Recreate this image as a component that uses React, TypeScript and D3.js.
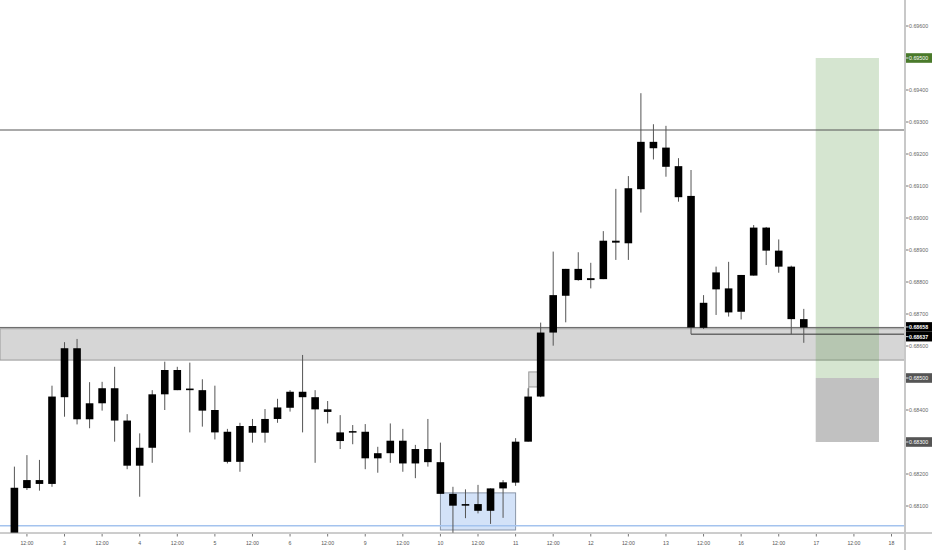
import * as d3 from "d3";

// 4h candles, prices x 1e5
const opens = [67978, 68156, 68181, 68169, 68440, 68593, 68371, 68421, 68468, 68367, 68226, 68282, 68449, 68525, 68467, 68462, 68400, 68332, 68238, 68350, 68329, 68372, 68407, 68457, 68440, 68402, 68330, 68334, 68332, 68249, 68265, 68304, 68233, 68278, 68237, 68138, 68101, 68106, 68085, 68155, 68173, 68301, 68442, 68642, 68757, 68841, 68806, 68809, 68929, 68921, 69090, 69238, 69220, 69162, 69069, 68657, 68777, 68780, 68707, 68820, 68970, 68898, 68848, 68684];
const highs = [68223, 68259, 68244, 68476, 68612, 68622, 68487, 68488, 68535, 68387, 68327, 68462, 68551, 68535, 68548, 68496, 68476, 68341, 68360, 68372, 68403, 68435, 68462, 68572, 68462, 68428, 68384, 68353, 68356, 68285, 68358, 68341, 68291, 68372, 68298, 68160, 68152, 68166, 68155, 68181, 68312, 68468, 68673, 68895, 68841, 68893, 68860, 68959, 69091, 69131, 69390, 69293, 69288, 69187, 69150, 68759, 68848, 68863, 68822, 68978, 68972, 68933, 68851, 68716];
const lows = [67963, 68150, 68148, 68160, 68379, 68355, 68343, 68398, 68301, 68215, 68129, 68235, 68400, 68462, 68330, 68348, 68308, 68233, 68207, 68298, 68298, 68360, 68395, 68330, 68235, 68358, 68278, 68293, 68215, 68204, 68235, 68207, 68187, 68223, 68138, 68006, 68062, 68077, 68044, 68063, 68163, 68301, 68440, 68601, 68674, 68804, 68780, 68809, 68869, 68869, 69017, 69183, 69129, 69051, 68637, 68653, 68697, 68692, 68683, 68820, 68853, 68829, 68637, 68610];
const closes = [68157, 68181, 68169, 68442, 68593, 68371, 68421, 68468, 68367, 68226, 68282, 68449, 68525, 68462, 68462, 68398, 68330, 68238, 68350, 68329, 68372, 68408, 68457, 68440, 68402, 68394, 68303, 68330, 68249, 68265, 68304, 68233, 68278, 68237, 68138, 68101, 68106, 68085, 68155, 68174, 68301, 68442, 68642, 68759, 68841, 68806, 68812, 68929, 68923, 69093, 69238, 69218, 69160, 69065, 68658, 68735, 68830, 68705, 68822, 68970, 68898, 68848, 68684, 68658];

const timeTickIdx = [1, 4, 7, 10, 13, 16, 19, 22, 25, 28, 31, 34, 37, 40, 43, 46, 49, 52, 55, 58, 61, 64, 67, 70];
const timeTickLabels = ["12:00", "3", "12:00", "4", "12:00", "5", "12:00", "6", "12:00", "9", "12:00", "10", "12:00", "11", "12:00", "12", "12:00", "13", "12:00", "16", "12:00", "17", "12:00", "18"];

const priceTicks = d3.range(68100, 69601, 100).map((v) => v / 1e5);

// drawings
const resistanceLevel = 0.69275;
const lastPrice = 0.68658;
const rayLevel = 0.68637;
const rayStartIdx = 54;
const zoneTop = 0.68654;
const zoneBottom = 0.68556;
const blueLevel = 0.68038;
const boxIdx = [34, 40];
const boxPrices = [0.68141, 0.68025];
const ghostIdx = [41.05, 41.8];
const ghostPrices = [0.68519, 0.68472, 0.68442];
const positionIdx = [63.95, 69];
const targetPrice = 0.695;
const entryPrice = 0.685;
const stopPrice = 0.683;

const axisBadges = [
  { v: 0.695, bg: "#4a7a2b", dy: 0 },
  { v: 0.68658, bg: "#000000", dy: -0.5 },
  { v: 0.68637, bg: "#000000", dy: 2.5 },
  { v: 0.685, bg: "#555555", dy: 0 },
  { v: 0.683, bg: "#555555", dy: 0 },
];

const W = 932;
const H = 550;
const plotRight = 905;
const plotBottom = 533;

export default function App() {
  const x = d3.scaleLinear().domain([0, 70]).range([14.4, 891.5]);
  const y = d3.scaleLinear().domain([0.681, 0.696]).range([506, 26]);
  const fmt = d3.format(".5f");
  const bw = 7.6;
  const font = "'Liberation Sans', Arial, sans-serif";
  const badgeVals = axisBadges.map((b) => fmt(b.v));

  return (
    <svg
      width={W}
      height={H}
      style={{ position: "absolute", left: 0, top: 0, background: "#fff" }}
    >
      <defs>
        <clipPath id="plot">
          <rect x={0} y={0} width={plotRight} height={plotBottom} />
        </clipPath>
      </defs>
      <g clipPath="url(#plot)">
        {/* support zone */}
        <rect
          x={0}
          y={y(zoneTop)}
          width={plotRight}
          height={y(zoneBottom) - y(zoneTop)}
          fill="#d6d6d6"
          stroke="#9a9a9a"
          strokeWidth={1}
        />
        {/* long position */}
        <rect
          x={x(positionIdx[0])}
          y={y(targetPrice)}
          width={x(positionIdx[1]) - x(positionIdx[0])}
          height={y(entryPrice) - y(targetPrice)}
          fill="rgb(80,148,58)"
          fillOpacity={0.24}
        />
        <rect
          x={x(positionIdx[0])}
          y={y(entryPrice)}
          width={x(positionIdx[1]) - x(positionIdx[0])}
          height={y(stopPrice) - y(entryPrice)}
          fill="#c1c1c1"
        />
        {/* blue box */}
        <rect
          x={x(boxIdx[0])}
          y={y(boxPrices[0])}
          width={x(boxIdx[1]) - x(boxIdx[0])}
          height={y(boxPrices[1]) - y(boxPrices[0])}
          fill="#d3e2f8"
          stroke="#8a96a8"
          strokeWidth={1}
        />
        <line x1={0} x2={plotRight} y1={y(blueLevel)} y2={y(blueLevel)} stroke="#a4c3ee" strokeWidth={1.5} />
        <line x1={0} x2={plotRight} y1={y(resistanceLevel)} y2={y(resistanceLevel)} stroke="#555" strokeWidth={1} />
        <line x1={0} x2={plotRight} y1={y(lastPrice)} y2={y(lastPrice)} stroke="#666" strokeWidth={1} />
        <line x1={x(rayStartIdx)} x2={plotRight} y1={y(rayLevel)} y2={y(rayLevel)} stroke="#333" strokeWidth={1} />
        {/* ghost bar */}
        <rect
          x={x(ghostIdx[0])}
          y={y(ghostPrices[0])}
          width={x(ghostIdx[1]) - x(ghostIdx[0])}
          height={y(ghostPrices[1]) - y(ghostPrices[0])}
          fill="#dedede"
          stroke="#9a9a9a"
          strokeWidth={1}
        />
        <line
          x1={x(ghostIdx[0])}
          x2={x(ghostIdx[0])}
          y1={y(ghostPrices[1])}
          y2={y(ghostPrices[2])}
          stroke="#9a9a9a"
        />
        {/* candles */}
        {opens.map((o, i) => {
          const cx = x(i);
          const top = y(Math.max(o, closes[i]) / 1e5);
          const bot = y(Math.min(o, closes[i]) / 1e5);
          const h = Math.max(bot - top, 1.5);
          return (
            <g key={i}>
              <line
                x1={cx}
                x2={cx}
                y1={y(highs[i] / 1e5)}
                y2={y(lows[i] / 1e5)}
                stroke="#555"
                strokeWidth={1}
              />
              <rect x={cx - bw / 2} y={top} width={bw} height={h} fill="#000" />
            </g>
          );
        })}
      </g>

      {/* axes */}
      <line x1={0} x2={W} y1={plotBottom} y2={plotBottom} stroke="#9a9a9a" strokeWidth={1} />
      <line x1={plotRight} x2={plotRight} y1={0} y2={H} stroke="#c8c8c8" strokeWidth={2} />

      {timeTickIdx.map((t, i) => (
        <g key={t}>
          <line x1={x(t)} x2={x(t)} y1={plotBottom + 1} y2={plotBottom + 3.5} stroke="#777" />
          <text
            x={x(t)}
            y={545}
            textAnchor="middle"
            fontFamily={font}
            fontSize={5.2}
            fill="#555"
          >
            {timeTickLabels[i]}
          </text>
        </g>
      ))}

      {priceTicks.map((p) =>
        badgeVals.includes(fmt(p)) ? null : (
          <g key={p}>
            <line x1={plotRight + 1} x2={plotRight + 3.5} y1={y(p)} y2={y(p)} stroke="#777" />
            <text x={909} y={y(p) + 1.9} fontFamily={font} fontSize={5.3} fill="#666">
              {fmt(p)}
            </text>
          </g>
        )
      )}

      {axisBadges.map((b) => (
        <g key={b.v}>
          <rect x={906} y={y(b.v) + b.dy - 4.8} width={26} height={9.6} fill={b.bg} />
          <line x1={plotRight + 1} x2={plotRight + 3.5} y1={y(b.v) + b.dy} y2={y(b.v) + b.dy} stroke="#ddd" />
          <text
            x={909}
            y={y(b.v) + b.dy + 1.9}
            fontFamily={font}
            fontSize={5.3}
            fill="#fff"
            fontWeight={b.bg === "#000000" ? "bold" : "normal"}
          >
            {fmt(b.v)}
          </text>
        </g>
      ))}
    </svg>
  );
}
